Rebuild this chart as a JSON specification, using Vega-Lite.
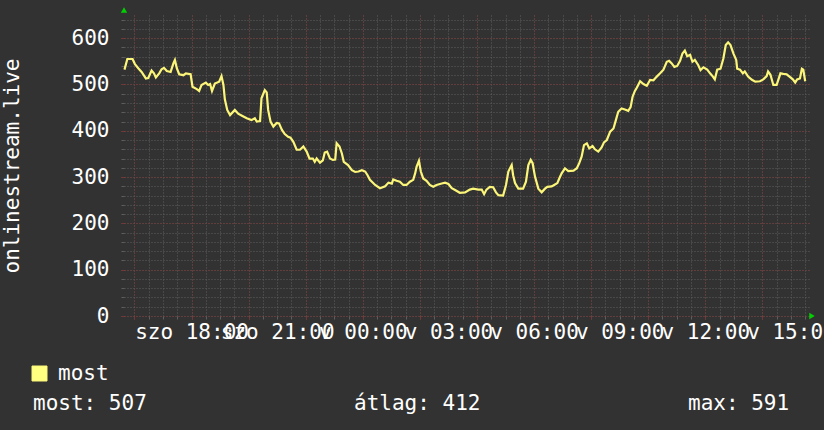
{
  "$schema": "https://vega.github.io/schema/vega-lite/v6.json",
  "width": 685,
  "height": 301,
  "autosize": {"type": "none"},
  "padding": {"left": 124, "top": 15, "right": 15, "bottom": 114},
  "background": "#323232",
  "config": {
    "view": {"fill": "#212121", "stroke": null},
    "font": "DejaVu Sans Mono",
    "axis": {
      "labelFont": "DejaVu Sans Mono",
      "labelColor": "#ffffff",
      "labelFontSize": 21,
      "titleFont": "DejaVu Sans Mono",
      "titleColor": "#ffffff",
      "titleFontSize": 21,
      "titleFontWeight": "normal",
      "domain": false,
      "gridOpacity": 1,
      "gridWidth": 1,
      "tickWidth": 1
    },
    "legend": {
      "labelFont": "DejaVu Sans Mono",
      "labelColor": "#ffffff",
      "labelFontSize": 21
    }
  },
  "datasets": {
    "traffic": [
      {"t": "2024-03-16T15:39:00Z", "v": 532}, {"t": "2024-03-16T15:45:00Z", "v": 555}, {"t": "2024-03-16T15:56:00Z", "v": 555},
      {"t": "2024-03-16T16:01:00Z", "v": 544}, {"t": "2024-03-16T16:08:00Z", "v": 535}, {"t": "2024-03-16T16:15:00Z", "v": 527},
      {"t": "2024-03-16T16:24:00Z", "v": 513}, {"t": "2024-03-16T16:29:00Z", "v": 514}, {"t": "2024-03-16T16:36:00Z", "v": 530},
      {"t": "2024-03-16T16:41:00Z", "v": 524}, {"t": "2024-03-16T16:45:00Z", "v": 515}, {"t": "2024-03-16T16:52:00Z", "v": 524},
      {"t": "2024-03-16T16:57:00Z", "v": 533}, {"t": "2024-03-16T17:02:00Z", "v": 536}, {"t": "2024-03-16T17:08:00Z", "v": 529},
      {"t": "2024-03-16T17:16:00Z", "v": 527}, {"t": "2024-03-16T17:22:00Z", "v": 546}, {"t": "2024-03-16T17:25:00Z", "v": 553},
      {"t": "2024-03-16T17:29:00Z", "v": 535}, {"t": "2024-03-16T17:34:00Z", "v": 522}, {"t": "2024-03-16T17:43:00Z", "v": 520},
      {"t": "2024-03-16T17:48:00Z", "v": 524}, {"t": "2024-03-16T17:58:00Z", "v": 522}, {"t": "2024-03-16T18:02:00Z", "v": 495},
      {"t": "2024-03-16T18:11:00Z", "v": 490}, {"t": "2024-03-16T18:16:00Z", "v": 486}, {"t": "2024-03-16T18:21:00Z", "v": 499},
      {"t": "2024-03-16T18:30:00Z", "v": 504}, {"t": "2024-03-16T18:35:00Z", "v": 499}, {"t": "2024-03-16T18:39:00Z", "v": 501},
      {"t": "2024-03-16T18:43:00Z", "v": 486}, {"t": "2024-03-16T18:49:00Z", "v": 502}, {"t": "2024-03-16T18:58:00Z", "v": 506},
      {"t": "2024-03-16T19:03:00Z", "v": 518}, {"t": "2024-03-16T19:07:00Z", "v": 499}, {"t": "2024-03-16T19:10:00Z", "v": 468},
      {"t": "2024-03-16T19:15:00Z", "v": 445}, {"t": "2024-03-16T19:21:00Z", "v": 434}, {"t": "2024-03-16T19:31:00Z", "v": 445},
      {"t": "2024-03-16T19:38:00Z", "v": 437}, {"t": "2024-03-16T19:47:00Z", "v": 432}, {"t": "2024-03-16T19:56:00Z", "v": 427},
      {"t": "2024-03-16T20:06:00Z", "v": 423}, {"t": "2024-03-16T20:13:00Z", "v": 427}, {"t": "2024-03-16T20:17:00Z", "v": 420},
      {"t": "2024-03-16T20:24:00Z", "v": 421}, {"t": "2024-03-16T20:27:00Z", "v": 470}, {"t": "2024-03-16T20:34:00Z", "v": 488},
      {"t": "2024-03-16T20:38:00Z", "v": 483}, {"t": "2024-03-16T20:41:00Z", "v": 445}, {"t": "2024-03-16T20:46:00Z", "v": 420},
      {"t": "2024-03-16T20:52:00Z", "v": 409}, {"t": "2024-03-16T20:59:00Z", "v": 417}, {"t": "2024-03-16T21:04:00Z", "v": 416},
      {"t": "2024-03-16T21:10:00Z", "v": 402}, {"t": "2024-03-16T21:16:00Z", "v": 393}, {"t": "2024-03-16T21:23:00Z", "v": 387},
      {"t": "2024-03-16T21:28:00Z", "v": 385}, {"t": "2024-03-16T21:34:00Z", "v": 376}, {"t": "2024-03-16T21:41:00Z", "v": 359},
      {"t": "2024-03-16T21:48:00Z", "v": 359}, {"t": "2024-03-16T21:55:00Z", "v": 366}, {"t": "2024-03-16T22:02:00Z", "v": 355},
      {"t": "2024-03-16T22:08:00Z", "v": 340}, {"t": "2024-03-16T22:15:00Z", "v": 340}, {"t": "2024-03-16T22:19:00Z", "v": 333},
      {"t": "2024-03-16T22:23:00Z", "v": 340}, {"t": "2024-03-16T22:30:00Z", "v": 331}, {"t": "2024-03-16T22:36:00Z", "v": 336},
      {"t": "2024-03-16T22:40:00Z", "v": 353}, {"t": "2024-03-16T22:45:00Z", "v": 355}, {"t": "2024-03-16T22:51:00Z", "v": 340},
      {"t": "2024-03-16T22:57:00Z", "v": 337}, {"t": "2024-03-16T23:02:00Z", "v": 338}, {"t": "2024-03-16T23:05:00Z", "v": 373},
      {"t": "2024-03-16T23:11:00Z", "v": 366}, {"t": "2024-03-16T23:16:00Z", "v": 351}, {"t": "2024-03-16T23:20:00Z", "v": 333},
      {"t": "2024-03-16T23:29:00Z", "v": 326}, {"t": "2024-03-16T23:37:00Z", "v": 315}, {"t": "2024-03-16T23:44:00Z", "v": 311},
      {"t": "2024-03-16T23:51:00Z", "v": 312}, {"t": "2024-03-16T23:58:00Z", "v": 315}, {"t": "2024-03-17T00:05:00Z", "v": 312},
      {"t": "2024-03-17T00:10:00Z", "v": 304}, {"t": "2024-03-17T00:15:00Z", "v": 294}, {"t": "2024-03-17T00:26:00Z", "v": 283},
      {"t": "2024-03-17T00:36:00Z", "v": 276}, {"t": "2024-03-17T00:47:00Z", "v": 280}, {"t": "2024-03-17T00:54:00Z", "v": 288},
      {"t": "2024-03-17T01:01:00Z", "v": 286}, {"t": "2024-03-17T01:04:00Z", "v": 295}, {"t": "2024-03-17T01:11:00Z", "v": 292},
      {"t": "2024-03-17T01:18:00Z", "v": 290}, {"t": "2024-03-17T01:25:00Z", "v": 283}, {"t": "2024-03-17T01:32:00Z", "v": 283},
      {"t": "2024-03-17T01:39:00Z", "v": 290}, {"t": "2024-03-17T01:46:00Z", "v": 294}, {"t": "2024-03-17T01:50:00Z", "v": 308},
      {"t": "2024-03-17T01:53:00Z", "v": 322}, {"t": "2024-03-17T01:58:00Z", "v": 335}, {"t": "2024-03-17T02:02:00Z", "v": 312},
      {"t": "2024-03-17T02:07:00Z", "v": 297}, {"t": "2024-03-17T02:14:00Z", "v": 292}, {"t": "2024-03-17T02:21:00Z", "v": 283},
      {"t": "2024-03-17T02:28:00Z", "v": 279}, {"t": "2024-03-17T02:35:00Z", "v": 283}, {"t": "2024-03-17T02:46:00Z", "v": 286},
      {"t": "2024-03-17T02:53:00Z", "v": 288}, {"t": "2024-03-17T03:00:00Z", "v": 285}, {"t": "2024-03-17T03:07:00Z", "v": 276},
      {"t": "2024-03-17T03:14:00Z", "v": 272}, {"t": "2024-03-17T03:24:00Z", "v": 266}, {"t": "2024-03-17T03:35:00Z", "v": 267},
      {"t": "2024-03-17T03:45:00Z", "v": 273}, {"t": "2024-03-17T03:52:00Z", "v": 275}, {"t": "2024-03-17T04:03:00Z", "v": 273},
      {"t": "2024-03-17T04:10:00Z", "v": 273}, {"t": "2024-03-17T04:15:00Z", "v": 263}, {"t": "2024-03-17T04:20:00Z", "v": 273},
      {"t": "2024-03-17T04:27:00Z", "v": 279}, {"t": "2024-03-17T04:34:00Z", "v": 278}, {"t": "2024-03-17T04:40:00Z", "v": 267},
      {"t": "2024-03-17T04:45:00Z", "v": 261}, {"t": "2024-03-17T04:55:00Z", "v": 260}, {"t": "2024-03-17T05:01:00Z", "v": 283},
      {"t": "2024-03-17T05:06:00Z", "v": 312}, {"t": "2024-03-17T05:13:00Z", "v": 326}, {"t": "2024-03-17T05:16:00Z", "v": 304},
      {"t": "2024-03-17T05:20:00Z", "v": 287}, {"t": "2024-03-17T05:27:00Z", "v": 275}, {"t": "2024-03-17T05:37:00Z", "v": 275},
      {"t": "2024-03-17T05:43:00Z", "v": 290}, {"t": "2024-03-17T05:48:00Z", "v": 326}, {"t": "2024-03-17T05:53:00Z", "v": 337},
      {"t": "2024-03-17T05:57:00Z", "v": 330}, {"t": "2024-03-17T06:02:00Z", "v": 301}, {"t": "2024-03-17T06:09:00Z", "v": 275},
      {"t": "2024-03-17T06:16:00Z", "v": 267}, {"t": "2024-03-17T06:23:00Z", "v": 275}, {"t": "2024-03-17T06:28:00Z", "v": 279},
      {"t": "2024-03-17T06:37:00Z", "v": 280}, {"t": "2024-03-17T06:44:00Z", "v": 284}, {"t": "2024-03-17T06:49:00Z", "v": 287},
      {"t": "2024-03-17T06:53:00Z", "v": 297}, {"t": "2024-03-17T06:58:00Z", "v": 308}, {"t": "2024-03-17T07:05:00Z", "v": 319},
      {"t": "2024-03-17T07:12:00Z", "v": 313}, {"t": "2024-03-17T07:23:00Z", "v": 314}, {"t": "2024-03-17T07:30:00Z", "v": 319},
      {"t": "2024-03-17T07:35:00Z", "v": 330}, {"t": "2024-03-17T07:40:00Z", "v": 344}, {"t": "2024-03-17T07:45:00Z", "v": 369},
      {"t": "2024-03-17T07:51:00Z", "v": 373}, {"t": "2024-03-17T07:56:00Z", "v": 362}, {"t": "2024-03-17T08:03:00Z", "v": 367},
      {"t": "2024-03-17T08:08:00Z", "v": 360}, {"t": "2024-03-17T08:15:00Z", "v": 355}, {"t": "2024-03-17T08:22:00Z", "v": 364},
      {"t": "2024-03-17T08:27:00Z", "v": 375}, {"t": "2024-03-17T08:33:00Z", "v": 380}, {"t": "2024-03-17T08:40:00Z", "v": 398},
      {"t": "2024-03-17T08:47:00Z", "v": 405}, {"t": "2024-03-17T08:52:00Z", "v": 423}, {"t": "2024-03-17T08:57:00Z", "v": 441},
      {"t": "2024-03-17T09:04:00Z", "v": 448}, {"t": "2024-03-17T09:11:00Z", "v": 446}, {"t": "2024-03-17T09:18:00Z", "v": 443},
      {"t": "2024-03-17T09:23:00Z", "v": 451}, {"t": "2024-03-17T09:27:00Z", "v": 473}, {"t": "2024-03-17T09:32:00Z", "v": 486},
      {"t": "2024-03-17T09:36:00Z", "v": 493}, {"t": "2024-03-17T09:43:00Z", "v": 507}, {"t": "2024-03-17T09:50:00Z", "v": 501},
      {"t": "2024-03-17T09:57:00Z", "v": 497}, {"t": "2024-03-17T10:04:00Z", "v": 510}, {"t": "2024-03-17T10:11:00Z", "v": 509},
      {"t": "2024-03-17T10:18:00Z", "v": 517}, {"t": "2024-03-17T10:25:00Z", "v": 524}, {"t": "2024-03-17T10:32:00Z", "v": 532},
      {"t": "2024-03-17T10:39:00Z", "v": 549}, {"t": "2024-03-17T10:44:00Z", "v": 551}, {"t": "2024-03-17T10:49:00Z", "v": 546},
      {"t": "2024-03-17T10:55:00Z", "v": 538}, {"t": "2024-03-17T11:01:00Z", "v": 540}, {"t": "2024-03-17T11:07:00Z", "v": 551},
      {"t": "2024-03-17T11:12:00Z", "v": 567}, {"t": "2024-03-17T11:17:00Z", "v": 573}, {"t": "2024-03-17T11:22:00Z", "v": 561},
      {"t": "2024-03-17T11:28:00Z", "v": 564}, {"t": "2024-03-17T11:33:00Z", "v": 549}, {"t": "2024-03-17T11:38:00Z", "v": 553},
      {"t": "2024-03-17T11:45:00Z", "v": 542}, {"t": "2024-03-17T11:50:00Z", "v": 531}, {"t": "2024-03-17T11:56:00Z", "v": 537},
      {"t": "2024-03-17T12:04:00Z", "v": 532}, {"t": "2024-03-17T12:10:00Z", "v": 524}, {"t": "2024-03-17T12:16:00Z", "v": 517},
      {"t": "2024-03-17T12:20:00Z", "v": 511}, {"t": "2024-03-17T12:25:00Z", "v": 532}, {"t": "2024-03-17T12:32:00Z", "v": 534},
      {"t": "2024-03-17T12:38:00Z", "v": 556}, {"t": "2024-03-17T12:43:00Z", "v": 585}, {"t": "2024-03-17T12:48:00Z", "v": 591},
      {"t": "2024-03-17T12:53:00Z", "v": 585}, {"t": "2024-03-17T12:59:00Z", "v": 567}, {"t": "2024-03-17T13:05:00Z", "v": 553},
      {"t": "2024-03-17T13:07:00Z", "v": 534}, {"t": "2024-03-17T13:13:00Z", "v": 532}, {"t": "2024-03-17T13:19:00Z", "v": 524},
      {"t": "2024-03-17T13:23:00Z", "v": 528}, {"t": "2024-03-17T13:30:00Z", "v": 517}, {"t": "2024-03-17T13:38:00Z", "v": 510},
      {"t": "2024-03-17T13:45:00Z", "v": 506}, {"t": "2024-03-17T13:55:00Z", "v": 507}, {"t": "2024-03-17T14:02:00Z", "v": 511},
      {"t": "2024-03-17T14:09:00Z", "v": 518}, {"t": "2024-03-17T14:12:00Z", "v": 528}, {"t": "2024-03-17T14:17:00Z", "v": 521},
      {"t": "2024-03-17T14:23:00Z", "v": 499}, {"t": "2024-03-17T14:30:00Z", "v": 499}, {"t": "2024-03-17T14:38:00Z", "v": 524},
      {"t": "2024-03-17T14:44:00Z", "v": 523}, {"t": "2024-03-17T14:51:00Z", "v": 522}, {"t": "2024-03-17T14:57:00Z", "v": 517},
      {"t": "2024-03-17T15:04:00Z", "v": 511}, {"t": "2024-03-17T15:09:00Z", "v": 504}, {"t": "2024-03-17T15:13:00Z", "v": 511},
      {"t": "2024-03-17T15:19:00Z", "v": 513}, {"t": "2024-03-17T15:23:00Z", "v": 534}, {"t": "2024-03-17T15:26:00Z", "v": 532},
      {"t": "2024-03-17T15:30:00Z", "v": 507}
    ],
    "stats": [
      {"stat": "most", "value": 507, "label": "most: 507"},
      {"stat": "átlag", "value": 412, "label": "átlag: 412"},
      {"stat": "max", "value": 591, "label": "max: 591"}
    ]
  },
  "layer": [
    {
      "data": {"name": "traffic"},
      "mark": {"type": "line", "strokeWidth": 2.2, "interpolate": "linear", "color": "#fbf679"},
      "encoding": {
        "x": {
          "field": "t", "type": "temporal",
          "scale": {"type": "utc", "domain": [1710603480000, 1710689880000]},
          "axis": {
            "orient": "bottom", "title": null, "labels": false,
            "values": [1710604800000,1710606600000,1710608400000,1710610200000,1710612000000,1710613800000,1710615600000,1710617400000,1710619200000,1710621000000,1710622800000,1710624600000,1710626400000,1710628200000,1710630000000,1710631800000,1710633600000,1710635400000,1710637200000,1710639000000,1710640800000,1710642600000,1710644400000,1710646200000,1710648000000,1710649800000,1710651600000,1710653400000,1710655200000,1710657000000,1710658800000,1710660600000,1710662400000,1710664200000,1710666000000,1710667800000,1710669600000,1710671400000,1710673200000,1710675000000,1710676800000,1710678600000,1710680400000,1710682200000,1710684000000,1710685800000,1710687600000,1710689400000],
            "grid": true, "gridColor": "#5e5e5e", "gridDash": [1, 2],
            "ticks": true, "tickColor": "#5e5e5e", "tickSize": 3
          }
        },
        "y": {
          "field": "v", "type": "quantitative",
          "scale": {"domain": [0, 650], "nice": false},
          "axis": {
            "orient": "left", "title": null, "labels": false, "values": [0,20,40,60,80,100,120,140,160,180,200,220,240,260,280,300,320,340,360,380,400,420,440,460,480,500,520,540,560,580,600,620,640],
            "grid": true, "gridColor": "#5e5e5e", "gridDash": [1, 2],
            "ticks": true, "tickColor": "#5e5e5e", "tickSize": 3
          }
        },
        "color": {
          "datum": "most",
          "scale": {"range": ["#fbf679"]},
          "legend": {
            "orient": "none", "legendX": -95, "legendY": 348, "title": null, "padding": 0,
            "symbolType": "square", "symbolSize": 225, "labelOffset": 8,
            "encode": {"symbols": {"update": {"fill": {"value": "#ffff80"}, "stroke": {"value": "#000000"}, "strokeWidth": {"value": 1}}}}
          }
        }
      }
    },
    {
      "data": {"name": "traffic"},
      "mark": {"type": "line", "opacity": 0},
      "encoding": {
        "x": {
          "field": "t", "type": "temporal",
          "scale": {"type": "utc", "domain": [1710603480000, 1710689880000]},
          "axis": {
            "orient": "bottom", "title": null, "labels": false,
            "values": [1710604800000,1710612000000,1710619200000,1710626400000,1710633600000,1710640800000,1710648000000,1710655200000,1710662400000,1710669600000,1710676800000,1710684000000],
            "grid": true, "gridColor": "#7a3434", "gridDash": [1, 2],
            "ticks": true, "tickColor": "#7a3434", "tickSize": 3
          }
        },
        "y": {
          "field": "v", "type": "quantitative",
          "scale": {"domain": [0, 650], "nice": false},
          "axis": {
            "orient": "left",
            "title": "onlinestream.live", "titlePadding": 49,
            "values": [0, 100, 200, 300, 400, 500, 600],
            "grid": true, "gridColor": "#7a3434", "gridDash": [1, 2],
            "ticks": true, "tickColor": "#7a3434", "tickSize": 3,
            "labelPadding": 12
          }
        }
      }
    },
    {
      "data": {"name": "traffic"},
      "mark": {"type": "line", "opacity": 0},
      "encoding": {
        "x": {
          "field": "t", "type": "temporal",
          "scale": {"type": "utc", "domain": [1710603480000, 1710689880000]},
          "axis": {
            "orient": "bottom", "title": null, "grid": false, "ticks": false, "tickSize": 0,
            "values": [1710612000000,1710622800000,1710633600000,1710644400000,1710655200000,1710666000000,1710676800000,1710687600000],
            "labelOverlap": false, "labelFlush": false, "labelBound": false,
            "labelBaseline": "alphabetic", "labelPadding": 22,
            "labelExpr": "(utcFormat(datum.value, '%d') == '16' ? 'szo ' : 'v ') + utcFormat(datum.value, '%H:%M')"
          }
        },
        "y": {"field": "v", "type": "quantitative", "axis": null}
      }
    },
    {
      "data": {"name": "stats"},
      "mark": {"type": "point", "opacity": 0},
      "encoding": {
        "shape": {
          "field": "label", "type": "nominal", "sort": null,
          "legend": {
            "orient": "none", "legendX": -112, "legendY": 378, "title": null, "padding": 0,
            "direction": "horizontal", "columns": 3, "columnPadding": 186,
            "symbolOpacity": 0, "symbolSize": 0, "symbolStrokeWidth": 0, "labelOffset": 0
          }
        }
      }
    },
    {
      "data": {"values": [{"edge": "top"}]},
      "mark": {"type": "point", "shape": "triangle-up", "filled": true, "color": "#00d000", "opacity": 1, "size": 40, "yOffset": -5},
      "encoding": {
        "x": {"datum": 1710603480000, "type": "temporal", "scale": {"type": "utc", "domain": [1710603480000, 1710689880000]}, "axis": null},
        "y": {"datum": 650, "type": "quantitative", "axis": null}
      }
    },
    {
      "data": {"values": [{"edge": "right"}]},
      "mark": {"type": "point", "shape": "triangle-right", "filled": true, "color": "#00d000", "opacity": 1, "size": 40, "xOffset": 3},
      "encoding": {
        "x": {"datum": 1710689880000, "type": "temporal", "scale": {"type": "utc", "domain": [1710603480000, 1710689880000]}, "axis": null},
        "y": {"datum": 0, "type": "quantitative", "axis": null}
      }
    }
  ],
  "resolve": {"axis": {"x": "independent", "y": "independent"}}
}
